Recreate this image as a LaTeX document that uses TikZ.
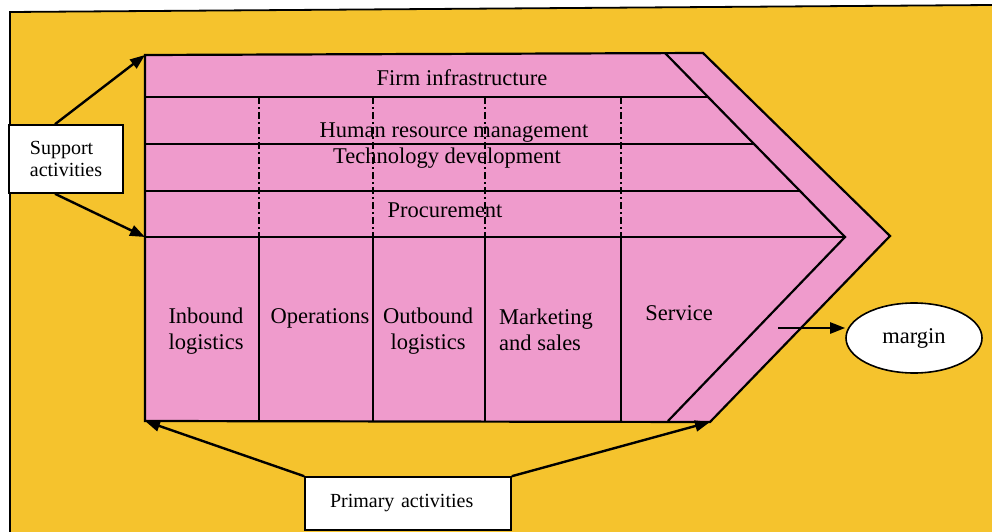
\documentclass[tikz,border=0pt]{standalone}
\usepackage{fontspec}
\setmainfont{Liberation Serif}
\usetikzlibrary{arrows.meta,positioning,calc,shapes.geometric}
\definecolor{chainyellow}{RGB}{245,195,45}
\definecolor{chainpink}{RGB}{239,155,204}

\begin{document}
\begin{tikzpicture}[x=1pt, y=-1pt, line width=2.2pt,
  actarrow/.style={-{Triangle[length=15pt, width=11pt]}, line width=2.4pt},
  lblbox/.style={draw=black, line width=1.6pt, fill=white, font=\fontsize{20}{22}\selectfont},
  rowtext/.style={font=\fontsize{22.5}{26}\selectfont, anchor=base, inner sep=0pt},
  coltext/.style={font=\fontsize{22.5}{26}\selectfont, inner sep=0pt},
  divider/.style={line width=1.8pt, dash pattern=on 7pt off 3pt on 2pt off 3pt}]
\useasboundingbox (0,0) rectangle (992,532);
\fill[white] (0,0) rectangle (992,532);
\fill[chainyellow] (10,12) -- (992,5) -- (992,532) -- (10,532) -- cycle;
\draw[line width=1.8pt] (10,532) -- (10,12) -- (992,5);
\coordinate (tl) at (145,55);
\coordinate (tr) at (703,53);
\coordinate (tip) at (890,236);
\coordinate (br) at (710,422);
\coordinate (bl) at (145,421);
\coordinate (ml) at (145,237);
\coordinate (itop) at (665,53);
\coordinate (itip) at (845,237);
\coordinate (ibot) at (668,421);
\filldraw[fill=chainpink] (tl) -- (tr) -- (tip) -- (br) -- (bl) -- cycle;
\draw (itop) -- (itip) -- (ibot);
\draw (145,97) -- (708,97);
\draw (145,144) -- (754,144);
\draw (145,191) -- (800,191);
\draw (ml) -- (itip);
\draw (259,237) -- (259,421);
\draw (373,237) -- (373,421);
\draw (485,237) -- (485,421);
\draw (621,237) -- (621,421);
\draw[divider] (259,97) -- (259,237);
\draw[divider] (373,97) -- (373,237);
\draw[divider] (485,97) -- (485,237);
\draw[divider] (621,97) -- (621,237);
\node[rowtext] (firm) at (462,86) {Firm infrastructure};
\node[rowtext] (hrm) at (454,137) {Human resource management};
\node[rowtext] (tech) at (447,163) {Technology development};
\node[rowtext] (proc) at (445,217) {Procurement};
\node[coltext, align=center] (inbound) at (206,331) {Inbound\\logistics};
\node[rowtext] (ops) at (320,323) {Operations};
\node[coltext, align=center] (outbound) at (428,331) {Outbound\\logistics};
\node[coltext, align=left] (marketing) at (546,330) {Marketing\\and sales};
\node[rowtext] (service) at (679,320) {Service};
\node[draw=black, ellipse, fill=white, line width=1.6pt, minimum width=136pt, minimum height=70pt, inner sep=0pt, font=\fontsize{22.5}{26}\selectfont] (margin) at (914,338) {margin};
\coordinate (svc) at (778,328);
\draw[actarrow] (svc) -- (svc -| margin.west);
\node[lblbox, minimum width=114pt, minimum height=68pt, align=left] (support) at (66,159) {Support\\activities};
\draw[actarrow] ([xshift=-11pt]support.north) -- (tl);
\draw[actarrow] ([xshift=-11pt]support.south) -- (ml);
\node[lblbox, minimum height=53pt, inner xsep=25pt, text width=156pt, align=left] (primary) at (408,503.5) {Primary activities};
\draw[actarrow] (primary.north west) -- (bl);
\draw[actarrow] (primary.north east) -- (br);
\end{tikzpicture}
\end{document}
